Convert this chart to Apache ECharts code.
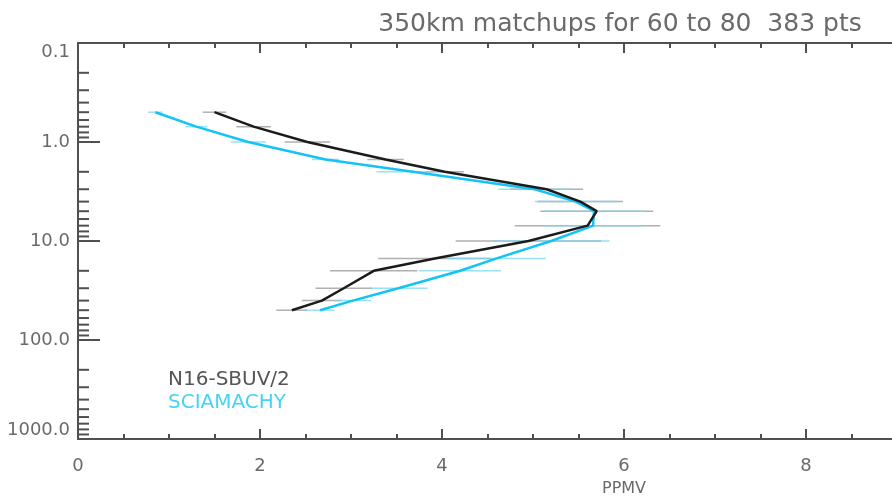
<!DOCTYPE html>
<html>
<head>
<meta charset="utf-8">
<script src="https://cdn.jsdelivr.net/npm/echarts@6/dist/echarts.min.js"></script>
<style>
  html, body { margin: 0; padding: 0; background: #ffffff; }
  #chart { width: 892px; height: 498px; }
</style>
</head>
<body>
<div id="chart"></div>
<script>
// Pressure levels (hPa) of the ozone profile
const pressureLevels = [0.5, 0.7, 1, 1.5, 2, 3, 4, 5, 7, 10, 15, 20, 30, 40, 50];

// N16-SBUV/2 mean mixing ratio (ppmv) and half-width of its spread bar
const sbuvPpmv   = [1.50, 1.93, 2.52, 3.38, 4.03, 5.15, 5.52, 5.70, 5.60, 4.95, 3.92, 3.25, 2.92, 2.68, 2.35];
const sbuvSpread = [0.13, 0.19, 0.25, 0.20, 0.21, 0.40, 0.47, 0.62, 0.80, 0.80, 0.62, 0.48, 0.31, 0.22, 0.17];

// SCIAMACHY mean mixing ratio (ppmv) and half-width of its spread bar
const sciaPpmv   = [0.85, 1.30, 1.87, 2.72, 3.68, 5.02, 5.47, 5.67, 5.66, 5.20, 4.60, 4.20, 3.52, 3.02, 2.66];
const sciaSpread = [0.08, 0.12, 0.19, 0.15, 0.40, 0.40, 0.45, 0.55, 0.55, 0.64, 0.54, 0.45, 0.32, 0.20, 0.16];

// Axis ranges and labels
const xRange = [0, 12];
const xStep = 2;
const yRange = [0.1, 1000];
const yDecades = [0.1, 1, 10, 100];
const yMinorMultipliers = [2, 3, 4, 5, 6, 7, 8, 9];

const titleText = '350km matchups for 60 to 80  383 pts';
const seriesNames = ['N16-SBUV/2', 'SCIAMACHY'];

const AXIS_COLOR = '#505050';
const TEXT_COLOR = '#6a6a6a';
const SBUV_COLOR = '#1b1b1b';
const SCIA_COLOR = '#14c3f3';
const FONT = '"DejaVu Sans", "Liberation Sans", sans-serif';

const minorPressureTicks = [];
yDecades.forEach(d => yMinorMultipliers.forEach(m => minorPressureTicks.push([0, m * d])));

const toPairs = (xs) => xs.map((v, i) => [v, pressureLevels[i]]);
const toBars = (xs, hs) => xs.map((v, i) => [v, pressureLevels[i], hs[i]]);

function barRenderer(color) {
  return function (params, api) {
    const x = api.value(0), p = api.value(1), h = api.value(2);
    const a = api.coord([x - h, p]);
    const b = api.coord([x + h, p]);
    return {
      type: 'line',
      shape: { x1: a[0], y1: a[1], x2: b[0], y2: b[1] },
      style: { stroke: color, lineWidth: 1.5 }
    };
  };
}

const xAxisCommon = {
  type: 'value',
  min: xRange[0],
  max: xRange[1],
  interval: xStep,
  splitLine: { show: false },
  axisLine: { show: true, onZero: false, lineStyle: { color: AXIS_COLOR, width: 2 } },
  axisTick: { show: true, inside: true, length: 10, lineStyle: { color: AXIS_COLOR, width: 2 } },
  minorTick: { show: true, splitNumber: 4, length: 5, lineStyle: { color: AXIS_COLOR, width: 2 } },
  minorSplitLine: { show: false }
};

const chart = echarts.init(document.getElementById('chart'), null, { renderer: 'canvas' });

chart.setOption({
  animation: false,
  backgroundColor: '#ffffff',
  // The plot area runs on past the right edge of the page (axis ends at 12 ppmv)
  grid: { left: 78, top: 43, width: 1092, height: 396, containLabel: false, outerBoundsMode: 'none' },
  xAxis: [
    Object.assign({}, xAxisCommon, {
      position: 'bottom',
      name: 'PPMV',
      nameLocation: 'middle',
      nameGap: 42,
      nameTextStyle: { color: TEXT_COLOR, fontSize: 16, fontFamily: FONT },
      axisLabel: { color: TEXT_COLOR, fontSize: 18, fontFamily: FONT, margin: 18 }
    }),
    Object.assign({}, xAxisCommon, {
      position: 'top',
      axisLabel: { show: false }
    })
  ],
  yAxis: {
    type: 'log',
    logBase: 10,
    inverse: true,
    min: yRange[0],
    max: yRange[1],
    splitLine: { show: false },
    axisLine: { show: true, onZero: false, lineStyle: { color: AXIS_COLOR, width: 2 } },
    axisTick: { show: true, inside: true, length: 22, lineStyle: { color: AXIS_COLOR, width: 2 } },
    axisLabel: {
      color: TEXT_COLOR,
      fontSize: 18,
      fontFamily: FONT,
      margin: 8,
      verticalAlignMinLabel: 'top',
      verticalAlignMaxLabel: 'bottom',
      formatter: v => Number(v).toFixed(1)
    }
  },
  series: [
    {
      name: 'minor-ticks',
      type: 'custom',
      xAxisIndex: 0,
      data: minorPressureTicks,
      silent: true,
      z: 5,
      renderItem: function (params, api) {
        const pt = api.coord([api.value(0), api.value(1)]);
        return {
          type: 'line',
          shape: { x1: pt[0], y1: pt[1], x2: pt[0] + 11, y2: pt[1] },
          style: { stroke: AXIS_COLOR, lineWidth: 2 }
        };
      }
    },
    {
      name: seriesNames[0] + ' spread',
      type: 'custom',
      data: toBars(sbuvPpmv, sbuvSpread),
      silent: true,
      z: 2,
      renderItem: barRenderer('rgba(150,150,150,0.75)')
    },
    {
      name: seriesNames[1] + ' spread',
      type: 'custom',
      data: toBars(sciaPpmv, sciaSpread),
      silent: true,
      z: 2,
      renderItem: barRenderer('rgba(120,215,245,0.75)')
    },
    {
      name: seriesNames[1],
      type: 'line',
      data: toPairs(sciaPpmv),
      showSymbol: false,
      z: 3,
      lineStyle: { color: SCIA_COLOR, width: 2.5 }
    },
    {
      name: seriesNames[0],
      type: 'line',
      data: toPairs(sbuvPpmv),
      showSymbol: false,
      z: 4,
      lineStyle: { color: SBUV_COLOR, width: 2.5 }
    }
  ],
  graphic: [
    {
      type: 'text',
      x: 620, y: 24,
      style: {
        text: titleText,
        fill: TEXT_COLOR,
        font: '25px ' + FONT,
        textAlign: 'center',
        textVerticalAlign: 'middle'
      }
    },
    {
      type: 'text',
      x: 168, y: 380,
      style: {
        text: seriesNames[0],
        fill: '#555555',
        font: '20px ' + FONT,
        textAlign: 'left',
        textVerticalAlign: 'middle'
      }
    },
    {
      type: 'text',
      x: 168, y: 403,
      style: {
        text: seriesNames[1],
        fill: '#46d2f8',
        font: '20px ' + FONT,
        textAlign: 'left',
        textVerticalAlign: 'middle'
      }
    }
  ]
});
</script>
</body>
</html>
